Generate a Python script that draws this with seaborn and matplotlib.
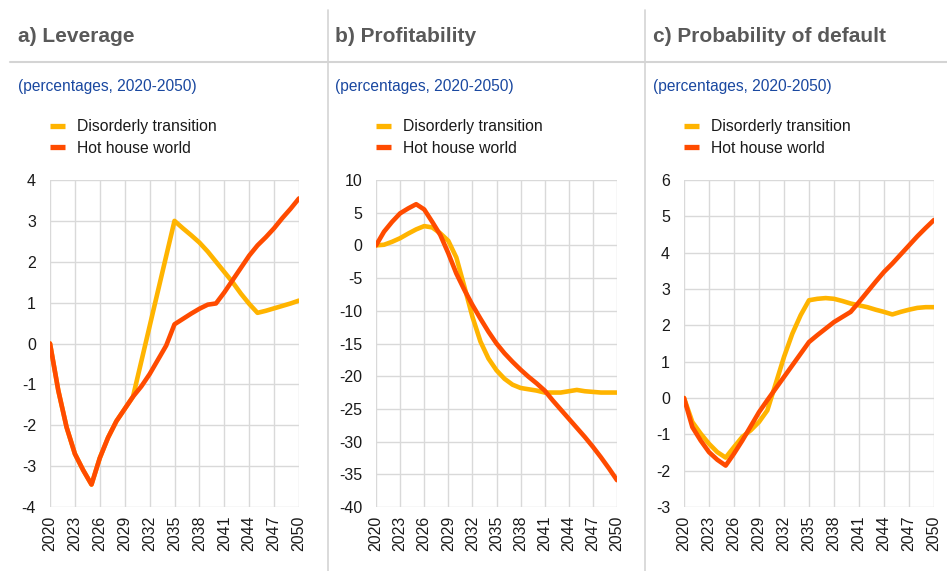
import numpy as np
import pandas as pd
import matplotlib
matplotlib.use("Agg")
import matplotlib.pyplot as plt
import seaborn as sns
from matplotlib.lines import Line2D

# data (annual values 2020-2050)
years = list(range(2020, 2051))
scenarios = ["Disorderly transition", "Hot house world"]

leverage_disorderly = [0, -1.15, -2.05, -2.7, -3.1, -3.45, -2.8, -2.3, -1.9, -1.6,
                       -1.3, -0.44, 0.42, 1.28, 2.14, 3.0, 2.82, 2.65, 2.47, 2.25,
                       2.0, 1.75, 1.5, 1.22, 0.97, 0.75, 0.8, 0.86, 0.92, 0.98, 1.05]
leverage_hothouse = [0, -1.15, -2.05, -2.7, -3.1, -3.45, -2.8, -2.3, -1.9, -1.6,
                     -1.3, -1.05, -0.75, -0.4, -0.05, 0.47, 0.6, 0.73, 0.85, 0.95,
                     0.98, 1.25, 1.55, 1.85, 2.15, 2.4, 2.6, 2.82, 3.07, 3.3, 3.55]

profit_disorderly = [0, 0.1, 0.55, 1.1, 1.8, 2.45, 2.95, 2.75, 1.85, 0.7,
                     -1.85, -6.3, -10.9, -14.7, -17.3, -19.1, -20.4, -21.3, -21.8, -22.0,
                     -22.2, -22.5, -22.5, -22.5, -22.3, -22.1, -22.3, -22.4, -22.5, -22.5, -22.5]
profit_hothouse = [0, 2.1, 3.6, 4.9, 5.65, 6.3, 5.5, 3.6, 1.6, -1.2,
                   -4.3, -6.8, -9.1, -11.2, -13.2, -15.0, -16.5, -17.8, -19.0, -20.1,
                   -21.1, -22.2, -23.7, -25.1, -26.5, -27.9, -29.3, -30.8, -32.4, -34.1, -35.9]

pd_disorderly = [0, -0.66, -0.98, -1.26, -1.49, -1.64, -1.35, -1.07, -0.89, -0.66,
                 -0.34, 0.39, 1.13, 1.77, 2.28, 2.69, 2.73, 2.75, 2.73, 2.67,
                 2.6, 2.55, 2.5, 2.43, 2.37, 2.3, 2.37, 2.43, 2.48, 2.5, 2.5]
pd_hothouse = [0, -0.8, -1.17, -1.49, -1.7, -1.86, -1.53, -1.17, -0.78, -0.39,
               -0.06, 0.26, 0.58, 0.9, 1.22, 1.54, 1.73, 1.91, 2.09, 2.23,
               2.37, 2.64, 2.92, 3.2, 3.47, 3.7, 3.95, 4.2, 4.45, 4.68, 4.9]

titles = ["a) Leverage", "b) Profitability", "c) Probability of default"]
subtitle = "(percentages, 2020-2050)"
y_limits = [(-4, 4), (-40, 10), (-3, 6)]
y_steps = [1, 5, 1]
x_ticks = list(range(2020, 2051, 3))

colors = {"Disorderly transition": "#FFB400", "Hot house world": "#FF4B00"}

sns.set_style("white")
plt.rcParams["font.family"] = ["Liberation Sans", "DejaVu Sans"]

W, H = 947, 571
fig = plt.figure(figsize=(W / 100, H / 100), dpi=100)


def px_axes(left, top, right, bottom):
    return fig.add_axes([left / W, 1 - bottom / H, (right - left) / W, (bottom - top) / H])


panel_data = [
    (leverage_disorderly, leverage_hothouse),
    (profit_disorderly, profit_hothouse),
    (pd_disorderly, pd_hothouse),
]
axes_px = [(50, 180, 299, 507), (376, 180, 617, 507), (684, 180, 934, 507)]
text_x = [18, 335, 653]

for i, (dis, hot) in enumerate(panel_data):
    df = pd.DataFrame({
        "year": years * 2,
        "value": dis + hot,
        "scenario": [scenarios[0]] * len(years) + [scenarios[1]] * len(years),
    })
    ax = px_axes(*axes_px[i])
    sns.lineplot(data=df, x="year", y="value", hue="scenario", hue_order=scenarios,
                 palette=colors, linewidth=3.3, ax=ax, legend=True)
    for ln in ax.get_lines():
        ln.set_solid_capstyle("round")
        ln.set_solid_joinstyle("round")

    lo, hi = y_limits[i]
    ax.set_xlim(2020, 2050)
    ax.set_ylim(lo, hi)
    ax.set_xticks(x_ticks)
    ax.set_yticks(np.arange(lo, hi + 0.1, y_steps[i]))
    ax.set_yticklabels([f"{v:g}" for v in np.arange(lo, hi + 0.1, y_steps[i])])
    ax.tick_params(axis="x", rotation=90, labelsize=11.5, length=0, pad=6, colors="#1a1a1a")
    ax.tick_params(axis="y", labelsize=11.5, length=0, pad=10, colors="#1a1a1a")
    ax.grid(True, color="#d9d9d9", linewidth=1)
    ax.set_axisbelow(True)
    for s in ax.spines.values():
        s.set_visible(False)
    ax.set_xlabel("")
    ax.set_ylabel("")

    handles, labels = ax.get_legend_handles_labels()
    ax.get_legend().remove()
    leg = ax.legend(handles, labels, loc="upper left",
                    bbox_to_anchor=(axes_px[i][0] / W, 1 - 119 / H),
                    bbox_transform=fig.transFigure, frameon=False,
                    fontsize=11.3, borderpad=0, borderaxespad=0,
                    handlelength=0.95, handletextpad=0.75, labelspacing=0.42)
    for ln in leg.get_lines():
        ln.set_linewidth(3.8)
        ln.set_solid_capstyle("butt")
    for t in leg.get_texts():
        t.set_color("#1a1a1a")

    fig.text(text_x[i] / W, 1 - 37 / H, titles[i], fontsize=15, fontweight="bold",
             color="#595959", va="center", ha="left")
    fig.text(text_x[i] / W, 1 - 87 / H, subtitle, fontsize=11.2,
             color="#1a48a0", va="center", ha="left")

# separators
fig.add_artist(Line2D([10 / W, 1], [1 - 62 / H, 1 - 62 / H], transform=fig.transFigure,
                      color="#d4d4d4", linewidth=1.5))
for xs in (328, 645):
    fig.add_artist(Line2D([xs / W, xs / W], [1 - 10 / H, 0], transform=fig.transFigure,
                          color="#d4d4d4", linewidth=1.2))

fig.savefig("out.png", dpi=100)
